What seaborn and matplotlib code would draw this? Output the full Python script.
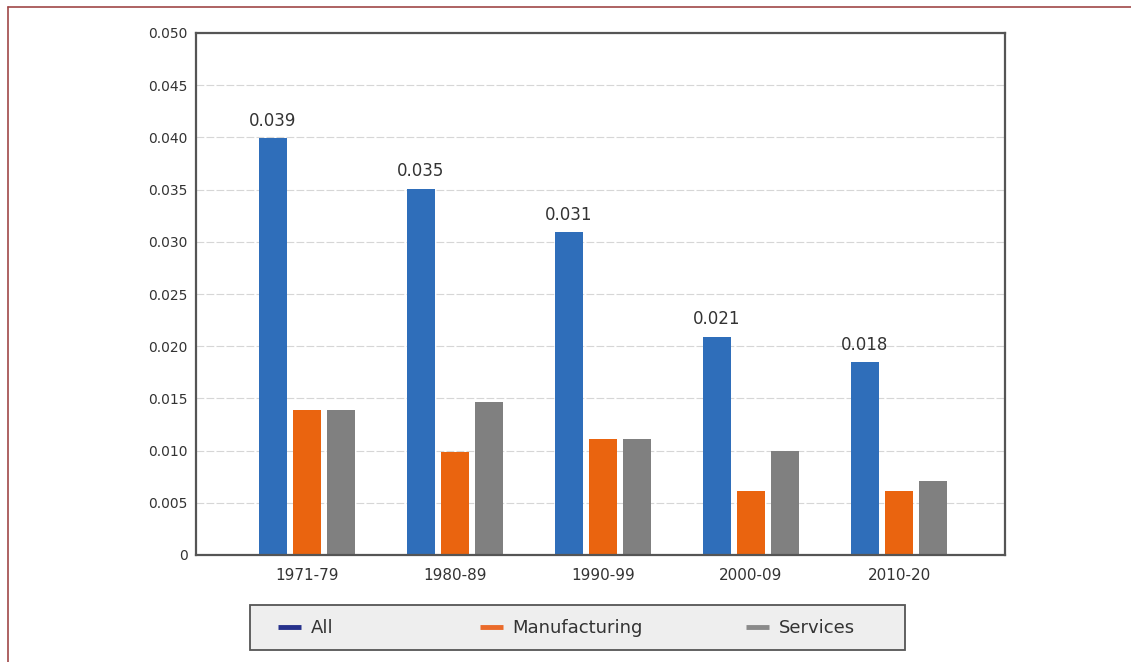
import matplotlib
matplotlib.use("Agg")
import matplotlib.pyplot as plt
import matplotlib.patches as mpatches
from matplotlib.lines import Line2D
import seaborn as sns
import pandas as pd

# ---- data ----
periods = ["1971-79", "1980-89", "1990-99", "2000-09", "2010-20"]
series_names = ["All", "Manufacturing", "Services"]
all_vals = [0.0399, 0.0351, 0.0309, 0.0209, 0.0185]
manufacturing_vals = [0.0139, 0.0099, 0.0111, 0.0061, 0.0061]
services_vals = [0.0139, 0.0147, 0.0111, 0.0100, 0.0071]
all_labels = ["0.039", "0.035", "0.031", "0.021", "0.018"]
y_ticks = [0, 0.005, 0.010, 0.015, 0.020, 0.025, 0.030, 0.035, 0.040, 0.045, 0.050]
y_tick_labels = ["0", "0.005", "0.010", "0.015", "0.020", "0.025", "0.030",
                 "0.035", "0.040", "0.045", "0.050"]

df = pd.DataFrame({
    "period": periods * 3,
    "series": [series_names[0]] * 5 + [series_names[1]] * 5 + [series_names[2]] * 5,
    "value": all_vals + manufacturing_vals + services_vals,
})

bar_colors = {"All": "#2F6EBA", "Manufacturing": "#EA640F", "Services": "#808080"}
legend_colors = {"All": "#26318C", "Manufacturing": "#EA6A2A", "Services": "#8A8A8A"}

sns.set_theme(style="white")
plt.rcParams["font.family"] = ["DejaVu Sans"]

W, H = 1131, 662
fig = plt.figure(figsize=(W / 100, H / 100), dpi=100)
ax = fig.add_axes([196 / W, (H - 555) / H, (1005 - 196) / W, (555 - 33) / H])

sns.barplot(data=df, x="period", y="value", hue="series", order=periods,
            hue_order=series_names, palette=bar_colors, width=0.69, gap=0.17,
            saturation=1, ax=ax, legend=False, errorbar=None, linewidth=0)

ax.set_xlim(-0.75, 4.716)
ax.set_ylim(0, 0.050)
ax.set_yticks(y_ticks)
ax.set_yticklabels(y_tick_labels)
ax.set_xlabel("")
ax.set_ylabel("")
ax.tick_params(axis="both", length=0, labelsize=10, colors="#333333")
ax.tick_params(axis="y", pad=6)
ax.tick_params(axis="x", pad=9, labelsize=11)

ax.yaxis.grid(True, color="#D6D6D6", linestyle=(0, (7, 2)), linewidth=0.8)
ax.xaxis.grid(False)
ax.set_axisbelow(True)
for sp in ax.spines.values():
    sp.set_visible(True)
    sp.set_color("#555555")
    sp.set_linewidth(1.6)

ax.bar_label(ax.containers[0], labels=all_labels, padding=6, fontsize=12, color="#333333")

# legend frame
fig.patches.append(mpatches.Rectangle((250 / W, (H - 650) / H), (905 - 250) / W, 45 / H,
                                      transform=fig.transFigure, facecolor="#EEEEEE",
                                      edgecolor="#555555", linewidth=1.3, zorder=0))
legend_x = {"All": 278, "Manufacturing": 480, "Services": 746}
for name in series_names:
    h = Line2D([0], [0], color=legend_colors[name], linewidth=3.5, solid_capstyle="butt")
    fig.legend(handles=[h], labels=[name], loc="center left",
               bbox_to_anchor=(legend_x[name] / W, (H - 628) / H),
               frameon=False, borderpad=0, borderaxespad=0, handlelength=1.25,
               handletextpad=0.55, fontsize=13, labelcolor="#333333")

# outer border (top and left)
border_color = "#A04848"
fig.add_artist(Line2D([8 / W, 1], [1 - 6.5 / H, 1 - 6.5 / H], transform=fig.transFigure,
                      color=border_color, linewidth=1.2))
fig.add_artist(Line2D([8 / W, 8 / W], [0, 1 - 6.5 / H], transform=fig.transFigure,
                      color=border_color, linewidth=1.2))

fig.savefig("out.png", dpi=100)
